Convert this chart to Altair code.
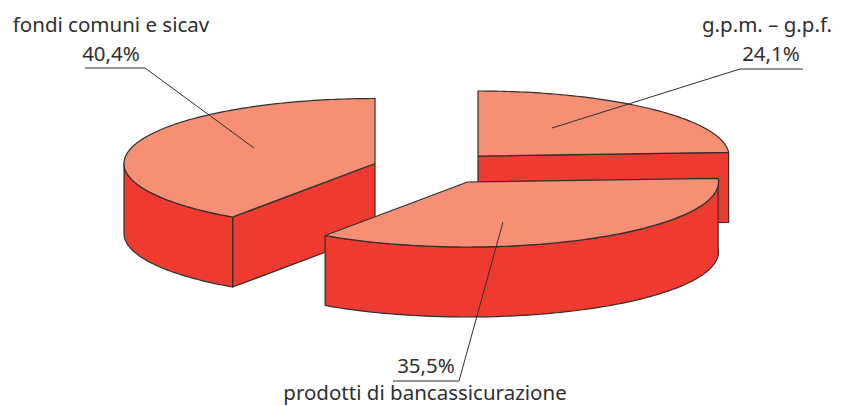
import math
import altair as alt
import pandas as pd

# ---- chart values
categories = ["fondi comuni e sicav", "g.p.m. – g.p.f.", "prodotti di bancassicurazione"]
shares = [40.4, 24.1, 35.5]
share_labels = ["40,4%", "24,1%", "35,5%"]

TOP = "#F68F73"
SIDE = "#EF3B2F"
INK = "#2F2F2F"
FONT = "Noto Sans"

# ---- 3D projection parameters of the exploded pie
RX, RY, DEPTH = 251, 65, 70
pivots = {0: (375, 163.5), 1: (478, 156), 2: (467.5, 182)}

# start angles, clockwise from 12 o'clock (first slice runs counter-clockwise from it)
a_total = 360 / sum(shares)
a_sweep = [s * a_total for s in shares]
ranges = [(-a_sweep[0], 0), (0, a_sweep[1]), (a_sweep[1], a_sweep[1] + a_sweep[2])]


def rim(i, a, drop=0):
    cx, cy = pivots[i]
    r = math.radians(a)
    return (cx + RX * math.sin(r), cy - RY * math.cos(r) + drop)


def arc(i, a0, a1, drop=0):
    n = max(2, int(abs(a1 - a0)) + 1)
    return [rim(i, a0 + (a1 - a0) * k / (n - 1), drop) for k in range(n)]


shapes = []  # painter's order: (points, fill)
# slice 0
a0, a1 = ranges[0]
p = pivots[0]
e = rim(0, a0)
shapes.append(([e, p, (p[0], p[1] + DEPTH), (e[0], e[1] + DEPTH)], SIDE))
shapes.append((arc(0, a0, -90) + arc(0, -90, a0, DEPTH), SIDE))
shapes.append(([p] + arc(0, a0, a1), TOP))
# slice 1
a0, a1 = ranges[1]
p = pivots[1]
e = rim(1, a1)
shapes.append(([p, e, (e[0], e[1] + DEPTH), (p[0], p[1] + DEPTH)], SIDE))
shapes.append(([p] + arc(1, a0, a1), TOP))
# slice 2
a0, a1 = ranges[2]
p = pivots[2]
shapes.append((arc(2, a0, a1) + arc(2, a1, a0, DEPTH), SIDE))
shapes.append(([p] + arc(2, a0, a1), TOP))

rows = []
for sid, (pts, fill) in enumerate(shapes):
    closed = pts + [pts[0]]
    for k, (x, y) in enumerate(closed):
        rows.append({"sid": sid, "k": k, "x": x, "y": y, "fill": fill})
df = pd.DataFrame(rows)

W, H = 825, 398
xs = alt.Scale(domain=[8, 8 + W], range=[0, W])
ys = alt.Scale(domain=[8, 8 + H], range=[0, H])
X = lambda f: alt.X(f, type="quantitative", scale=xs, axis=None)
Y = lambda f: alt.Y(f, type="quantitative", scale=ys, axis=None)

layers = []
for sid, (pts, fill) in enumerate(shapes):
    layers.append(
        alt.Chart(df[df.sid == sid])
        .mark_line(fill=fill, stroke=INK, strokeWidth=1.2, strokeJoin="round", interpolate="linear", clip=False)
        .encode(x=X("x"), y=Y("y"), order=alt.Order("k:Q"))
    )

leaders = pd.DataFrame(
    [
        {"s": 0, "k": 0, "x": 85, "y": 68},
        {"s": 0, "k": 1, "x": 145, "y": 68},
        {"s": 0, "k": 2, "x": 254, "y": 148},
        {"s": 1, "k": 0, "x": 803, "y": 69},
        {"s": 1, "k": 1, "x": 740, "y": 69},
        {"s": 1, "k": 2, "x": 552, "y": 128},
        {"s": 2, "k": 0, "x": 393, "y": 381},
        {"s": 2, "k": 1, "x": 459, "y": 381},
        {"s": 2, "k": 2, "x": 503, "y": 222},
    ]
)
layers.append(
    alt.Chart(leaders)
    .mark_line(stroke=INK, strokeWidth=1, clip=False)
    .encode(x=X("x"), y=Y("y"), detail="s:N", order=alt.Order("k:Q"))
)

labels = pd.DataFrame(
    [
        {"t": categories[0], "x": 111, "y": 32},
        {"t": share_labels[0], "x": 111, "y": 61},
        {"t": categories[1], "x": 767, "y": 32},
        {"t": share_labels[1], "x": 771, "y": 61},
        {"t": share_labels[2], "x": 426, "y": 373},
        {"t": categories[2], "x": 425, "y": 400},
    ]
)
layers.append(
    alt.Chart(labels)
    .mark_text(font=FONT, fontSize=20.5, color=INK, align="center", baseline="alphabetic", clip=False)
    .encode(x=X("x"), y=Y("y"), text="t:N")
)

chart = (
    alt.layer(*layers)
    .properties(width=W, height=H, padding=0, autosize=alt.AutoSizeParams(type="none"), background="white")
    .configure_view(stroke=None)
)
chart.save("out.html", embed_options={"renderer": "svg", "actions": False})
